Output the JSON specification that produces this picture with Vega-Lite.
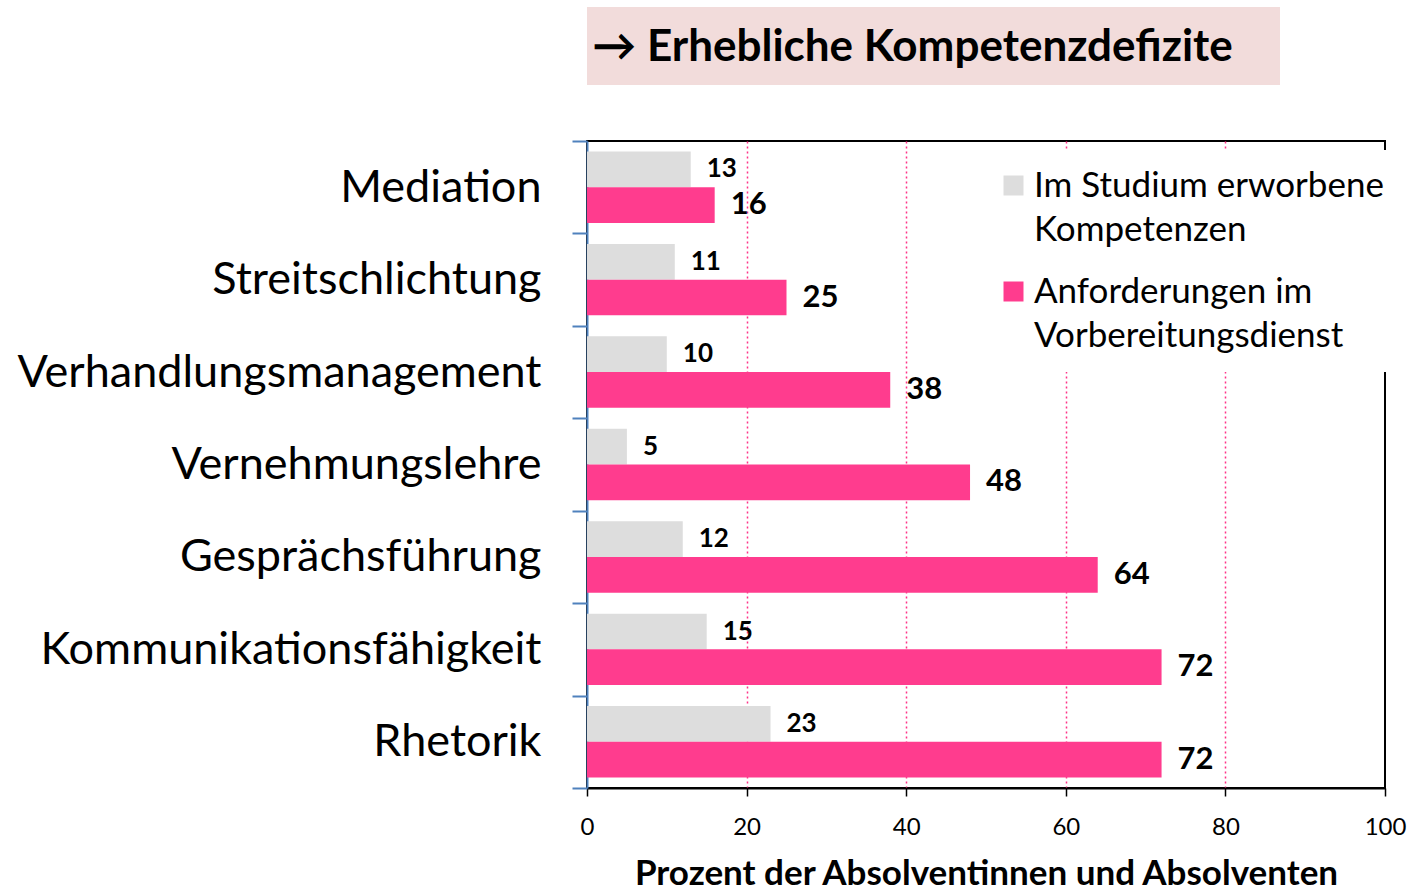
{
  "$schema": "https://vega.github.io/schema/vega-lite/v6.json",
  "background": "white",
  "padding": {"left": 15, "top": 7, "right": 5, "bottom": 0},
  "bounds": "flush",
  "spacing": 56,
  "config": {
    "font": "Lato",
    "view": {"stroke": "#000000", "strokeWidth": 2},
    "style": {"guide-label": {"lineHeight": 44}}
  },
  "vconcat": [
    {
      "width": 693,
      "height": 78,
      "view": {"fill": "#F2DCDB", "stroke": null},
      "data": {"values": [{"title": "→ Erhebliche Kompetenzdefizite"}]},
      "mark": {"type": "text", "font": "Lato", "fontWeight": "bold", "fontSize": 44, "color": "#000000", "baseline": "middle", "align": "center", "dx": -21, "dy": 2},
      "encoding": {"text": {"field": "title", "type": "nominal"}}
    },
    {
      "width": 798,
      "height": 647,
      "data": {
        "values": [
          {"skill": "Mediation", "series": "Im Studium erworbene Kompetenzen", "value": 13},
          {"skill": "Mediation", "series": "Anforderungen im Vorbereitungsdienst", "value": 16},
          {"skill": "Streitschlichtung", "series": "Im Studium erworbene Kompetenzen", "value": 11},
          {"skill": "Streitschlichtung", "series": "Anforderungen im Vorbereitungsdienst", "value": 25},
          {"skill": "Verhandlungsmanagement", "series": "Im Studium erworbene Kompetenzen", "value": 10},
          {"skill": "Verhandlungsmanagement", "series": "Anforderungen im Vorbereitungsdienst", "value": 38},
          {"skill": "Vernehmungslehre", "series": "Im Studium erworbene Kompetenzen", "value": 5},
          {"skill": "Vernehmungslehre", "series": "Anforderungen im Vorbereitungsdienst", "value": 48},
          {"skill": "Gesprächsführung", "series": "Im Studium erworbene Kompetenzen", "value": 12},
          {"skill": "Gesprächsführung", "series": "Anforderungen im Vorbereitungsdienst", "value": 64},
          {"skill": "Kommunikationsfähigkeit", "series": "Im Studium erworbene Kompetenzen", "value": 15},
          {"skill": "Kommunikationsfähigkeit", "series": "Anforderungen im Vorbereitungsdienst", "value": 72},
          {"skill": "Rhetorik", "series": "Im Studium erworbene Kompetenzen", "value": 23},
          {"skill": "Rhetorik", "series": "Anforderungen im Vorbereitungsdienst", "value": 72}
        ]
      },
      "encoding": {
        "y": {
          "field": "skill",
          "type": "nominal",
          "sort": null,
          "scale": {"paddingInner": 0, "paddingOuter": 0},
          "axis": {
            "title": null,
            "domainColor": "#4F81BD",
            "domainWidth": 2,
            "tickColor": "#4F81BD",
            "tickWidth": 2,
            "tickSize": 15,
            "tickBand": "extent",
            "labelFont": "Lato",
            "labelFontSize": 45,
            "labelColor": "#000000",
            "labelPadding": 31,
            "labelLimit": 0,
            "grid": false
          }
        },
        "yOffset": {
          "field": "series",
          "type": "nominal",
          "sort": null,
          "scale": {"paddingInner": 0, "paddingOuter": 0.294}
        },
        "x": {
          "field": "value",
          "type": "quantitative",
          "scale": {"domain": [0, 100], "nice": false},
          "axis": {
            "title": "Prozent der Absolventinnen und Absolventen",
            "titleFont": "Lato",
            "titleFontSize": 35,
            "titleFontWeight": "bold",
            "titleColor": "#000000",
            "titlePadding": 17,
            "values": [0, 20, 40, 60, 80, 100],
            "domainColor": "#000000",
            "domainWidth": 2,
            "tickColor": "#000000",
            "tickWidth": 1.5,
            "tickSize": 8,
            "labelFont": "Lato",
            "labelFontSize": 24,
            "labelColor": "#000000",
            "labelPadding": 19,
            "labelFlush": false,
            "grid": true,
            "gridColor": {"condition": {"test": "datum.value == 0 || datum.value == 100", "value": "transparent"}, "value": "#FF3388"},
            "gridDash": [2, 3],
            "gridWidth": 1.5
          }
        }
      },
      "layer": [
        {
          "mark": {"type": "bar"},
          "encoding": {
            "color": {
              "field": "series",
              "type": "nominal",
              "sort": null,
              "scale": {
                "domain": ["Im Studium erworbene Kompetenzen", "Anforderungen im Vorbereitungsdienst"],
                "range": ["#DDDDDD", "#FF3C8E"]
              },
              "legend": {
                "orient": "none",
                "legendX": 391,
                "legendY": 143,
                "title": null,
                "fillColor": "white",
                "padding": 18,
                "symbolType": "square",
                "symbolSize": 400,
                "symbolStrokeWidth": 0,
                "labelFont": "Lato",
                "labelFontSize": 35,
                "labelColor": "#000000",
                "labelLimit": 0,
                "labelOffset": 3,
                "rowPadding": 26,
                "labelExpr": "datum.label == 'Im Studium erworbene Kompetenzen' ? ['Im Studium erworbene', 'Kompetenzen'] : ['Anforderungen im', 'Vorbereitungsdienst']"
              }
            }
          }
        },
        {
          "transform": [{"filter": "datum.series == 'Im Studium erworbene Kompetenzen'"}],
          "mark": {"type": "text", "align": "left", "baseline": "middle", "dx": 16, "fontWeight": "bold", "font": "Lato", "fontSize": 26, "color": "#000000"},
          "encoding": {
            "text": {"field": "value", "type": "quantitative"}
          }
        },
        {
          "transform": [{"filter": "datum.series == 'Anforderungen im Vorbereitungsdienst'"}],
          "mark": {"type": "text", "align": "left", "baseline": "middle", "dx": 16, "fontWeight": "bold", "font": "Lato", "fontSize": 31, "color": "#000000"},
          "encoding": {
            "text": {"field": "value", "type": "quantitative"}
          }
        }
      ]
    }
  ]
}
